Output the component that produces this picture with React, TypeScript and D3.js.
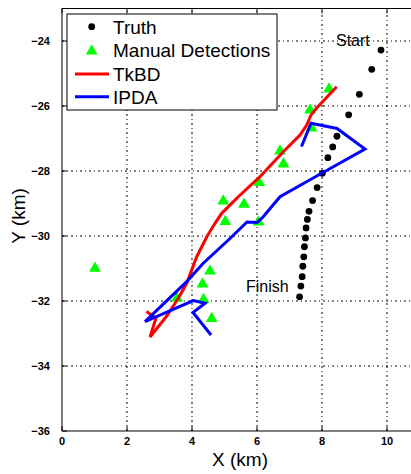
import React from "react";
import * as d3 from "d3";

// Ground-truth target positions (km)
const truthX = [9.815, 9.53, 9.15, 8.82, 8.46, 8.33, 8.18, 8.01, 7.85, 7.71, 7.6, 7.55, 7.51, 7.49, 7.46, 7.44, 7.41, 7.39, 7.35, 7.31];
const truthY = [-24.28, -24.87, -25.64, -26.27, -26.93, -27.26, -27.59, -28.07, -28.51, -28.91, -29.24, -29.49, -29.75, -30.06, -30.33, -30.64, -30.93, -31.25, -31.54, -31.87];

// Manually marked detections (km)
const detX = [8.215, 7.631, 7.677, 6.708, 6.815, 6.071, 4.963, 5.6, 5.025, 6.046, 1.015, 4.554, 4.323, 3.538, 4.354, 4.606];
const detY = [-25.446, -26.092, -26.646, -27.354, -27.754, -28.329, -28.892, -28.994, -29.523, -29.538, -30.963, -31.046, -31.446, -31.877, -31.923, -32.508];

// TkBD track estimate (km)
const tkbdX = [8.452, 7.837, 7.662, 7.529, 7.323, 6.809, 6.092, 5.425, 4.914, 4.708, 4.452, 4.145, 3.837, 3.578, 3.222, 2.708, 2.892, 2.6];
const tkbdY = [-25.406, -26.062, -26.277, -26.585, -26.892, -27.406, -28.175, -28.791, -29.302, -29.609, -30.031, -30.637, -31.455, -31.917, -32.462, -33.108, -32.523, -32.323];

// IPDA track estimate (km)
const ipdaX = [7.369, 7.662, 8.462, 9.323, 8.031, 6.708, 6.185, 6.0, 5.692, 5.169, 4.338, 3.837, 2.554, 4.04, 4.4, 4.031, 4.585];
const ipdaY = [-27.246, -26.532, -26.692, -27.323, -28.046, -28.791, -29.415, -29.585, -29.569, -30.077, -30.846, -31.406, -32.637, -31.985, -32.071, -32.354, -33.046];

const xTicks = [0, 2, 4, 6, 8, 10];
const yTicks = [-36, -34, -32, -30, -28, -26, -24];
const legendLabels = ["Truth", "Manual Detections", "TkBD", "IPDA"];

const W = 411;
const H = 474;
const FONT = "'Liberation Sans', Arial, Helvetica, sans-serif";

export default function App() {
  const x = d3.scaleLinear().domain([0, 10]).range([62, 387]);
  const y = d3.scaleLinear().domain([-36, -23]).range([431, 8.5]);
  const left = x(0);
  const bottom = y(-36);
  const top = y(-23);
  const right = W;

  const line = d3
    .line<[number, number]>()
    .x((d) => x(d[0]))
    .y((d) => y(d[1]));
  const tkbd = tkbdX.map((v, i) => [v, tkbdY[i]] as [number, number]);
  const ipda = ipdaX.map((v, i) => [v, ipdaY[i]] as [number, number]);
  const tri = d3.symbol(d3.symbolTriangle, 60)() as string;

  const gridDash = "2,3,1,3";
  const tickLen = 5;

  // legend geometry
  const lgX = 67, lgY = 14, lgW = 210, lgH = 96;
  const rowY = [26.7, 50, 74, 96.7];

  return (
    <svg
      width={W}
      height={H}
      style={{ position: "absolute", left: 0, top: 0, background: "#fff" }}
      fontFamily={FONT}
    >
      <rect x={0} y={0} width={W} height={H} fill="#fff" />

      {/* grid */}
      <g stroke="#000" strokeWidth={1} strokeDasharray={gridDash}>
        {xTicks.slice(1).map((t) => (
          <line key={"gx" + t} x1={x(t)} x2={x(t)} y1={bottom} y2={top} />
        ))}
        {yTicks.slice(1).map((t) => (
          <line key={"gy" + t} x1={left} x2={right} y1={y(t)} y2={y(t)} />
        ))}
      </g>

      {/* axes frame */}
      <g stroke="#000" strokeWidth={1} fill="none">
        <line x1={left} x2={right} y1={bottom} y2={bottom} />
        <line x1={left} x2={right} y1={top} y2={top} />
        <line x1={left} x2={left} y1={top} y2={bottom} />
        {xTicks.map((t) => (
          <g key={"tx" + t}>
            <line x1={x(t)} x2={x(t)} y1={bottom} y2={bottom - tickLen} />
            <line x1={x(t)} x2={x(t)} y1={top} y2={top + tickLen} />
          </g>
        ))}
        {yTicks.map((t) => (
          <line key={"ty" + t} x1={left} x2={left + tickLen} y1={y(t)} y2={y(t)} />
        ))}
      </g>

      {/* tick labels */}
      <g fontSize={11} fontWeight="bold" fill="#000">
        {xTicks.map((t) => (
          <text key={"lx" + t} x={x(t)} y={bottom + 14} textAnchor="middle">
            {t}
          </text>
        ))}
        {yTicks.map((t) => (
          <text key={"ly" + t} x={left - 12} y={y(t) + 4} textAnchor="end">
            {"\u2212" + Math.abs(t)}
          </text>
        ))}
      </g>

      {/* axis titles */}
      <text x={240} y={466} textAnchor="middle" fontSize={19} fill="#000">
        X (km)
      </text>
      <text
        transform={`translate(25,216) rotate(-90)`}
        textAnchor="middle"
        fontSize={19}
        fill="#000"
      >
        Y (km)
      </text>

      {/* truth */}
      <g fill="#000">
        {truthX.map((v, i) => (
          <circle key={"t" + i} cx={x(v)} cy={y(truthY[i])} r={3.4} />
        ))}
      </g>

      {/* detections */}
      <g fill="#00ff00">
        {detX.map((v, i) => (
          <path key={"d" + i} d={tri} transform={`translate(${x(v)},${y(detY[i]) + 1})`} />
        ))}
      </g>

      {/* tracks */}
      <path d={line(tkbd) as string} fill="none" stroke="#ff0000" strokeWidth={3} strokeLinejoin="miter" />
      <path d={line(ipda) as string} fill="none" stroke="#0000ff" strokeWidth={3} strokeLinejoin="miter" />

      {/* annotations */}
      <text x={336} y={46} fontSize={16} fill="#000">Start</text>
      <text x={246} y={292} fontSize={16} fill="#000">Finish</text>

      {/* legend */}
      <g>
        <rect x={lgX} y={lgY} width={lgW} height={lgH} fill="#fff" stroke="#000" strokeWidth={1} />
        <circle cx={91.7} cy={rowY[0]} r={3.4} fill="#000" />
        <path d={tri} transform={`translate(91.7,${rowY[1] + 1})`} fill="#00ff00" />
        <line x1={75} x2={109} y1={rowY[2]} y2={rowY[2]} stroke="#ff0000" strokeWidth={3} />
        <line x1={75} x2={109} y1={rowY[3]} y2={rowY[3]} stroke="#0000ff" strokeWidth={3} />
        {legendLabels.map((l, i) => (
          <text key={l} x={113} y={rowY[i] + 7} fontSize={19} fill="#000">
            {l}
          </text>
        ))}
      </g>
    </svg>
  );
}
